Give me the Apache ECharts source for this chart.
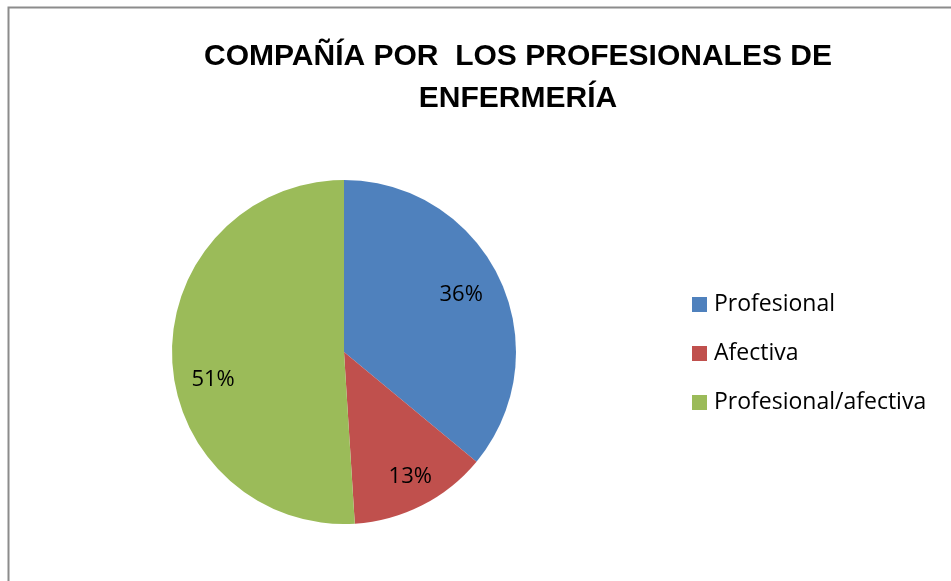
<!DOCTYPE html>
<html>
<head>
<meta charset="utf-8">
<script src="https://cdn.jsdelivr.net/npm/echarts@6/dist/echarts.min.js"></script>
<style>
  html, body { margin: 0; padding: 0; background: #fff; }
  #chart { width: 951px; height: 581px; }
</style>
</head>
<body>
<div id="chart"></div>
<script>
const categories = ["Profesional", "Afectiva", "Profesional/afectiva"];
const values = [36, 13, 51];
const colors = ["#4f81bd", "#c0504d", "#9bbb59"];

const pieData = categories.map((name, i) => ({
  name: name,
  value: values[i],
  itemStyle: { color: colors[i] },
}));

const chart = echarts.init(document.getElementById("chart"));

chart.setOption({
  animation: false,
  backgroundColor: "#fff",
  title: {
    text: "COMPAÑÍA POR  LOS PROFESIONALES DE\nENFERMERÍA",
    left: 513,
    textAlign: "center",
    top: 31,
    textStyle: {
      fontFamily: "Liberation Sans, Arial, sans-serif",
      fontWeight: "bold",
      fontSize: 30,
      lineHeight: 42,
      color: "#000",
    },
  },
  legend: {
    orient: "vertical",
    left: 687,
    top: 288,
    itemWidth: 15,
    itemHeight: 15,
    itemGap: 26,
    icon: "rect",
    data: categories,
    textStyle: {
      fontFamily: "Open Sans, sans-serif",
      fontSize: 23,
      color: "#000",
      padding: [0, 0, 0, 2],
    },
  },
  graphic: [
    {
      type: "polyline",
      silent: true,
      shape: { points: [[8.5, 600], [8.5, 7.5], [960, 7.5]] },
      style: { stroke: "#8c8c8c", lineWidth: 2, fill: null },
    },
  ],
  series: [
    {
      type: "pie",
      center: [344, 352],
      radius: 172,
      startAngle: 90,
      clockwise: true,
      silent: true,
      label: { show: false },
      labelLine: { show: false },
      data: pieData,
    },
    {
      // transparent ring only used to place the percentage labels further out
      type: "pie",
      center: [344, 352],
      radius: [92, 172],
      startAngle: 90,
      clockwise: true,
      silent: true,
      itemStyle: { color: "rgba(0,0,0,0)" },
      label: {
        show: true,
        position: "inside",
        formatter: "{c}%",
        fontFamily: "Open Sans, sans-serif",
        fontSize: 22,
        color: "#000",
      },
      labelLine: { show: false },
      data: categories.map((name, i) => ({
        name: name,
        value: values[i],
        label: [{ offset: [-5, 0] }, { offset: [5, 4] }, { offset: [4, 23] }][i],
      })),
    },
  ],
});
</script>
</body>
</html>
